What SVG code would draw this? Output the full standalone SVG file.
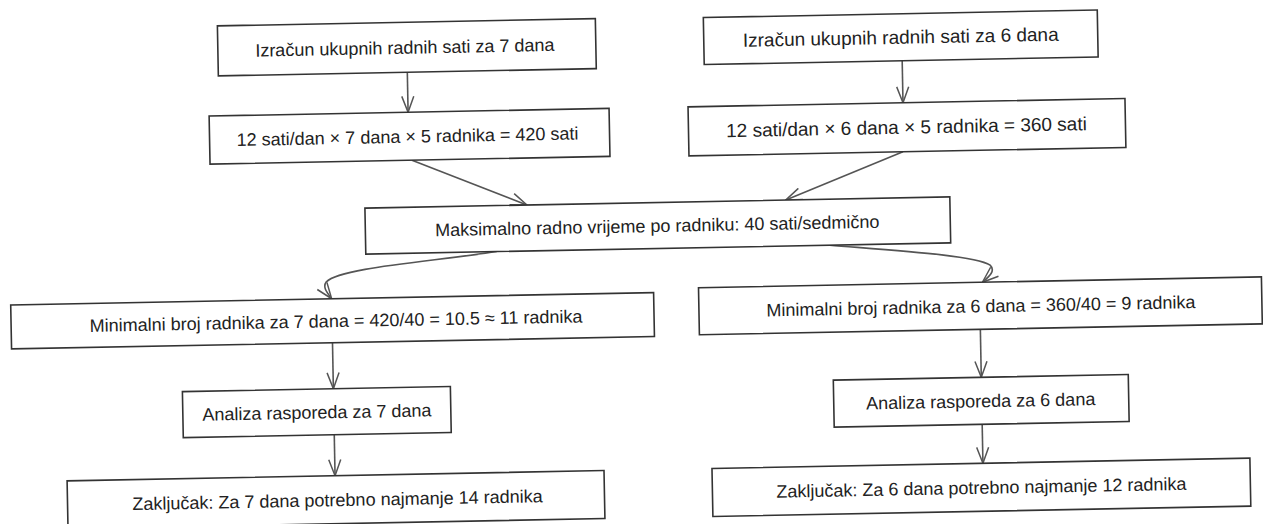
<svg xmlns="http://www.w3.org/2000/svg" width="1263" height="524" viewBox="0 0 1263 524">
<style>
.box{fill:#fff;stroke:#333;stroke-width:1.6}
.lbl{font-family:"Liberation Sans",Arial,Helvetica,sans-serif;font-size:18px;fill:#222;text-anchor:middle}
.big{font-size:19px}
.con{fill:none;stroke:#555;stroke-width:1.6}
</style>
<defs>
<marker id="arr" viewBox="0 0 18 14" refX="17" refY="7" markerWidth="18" markerHeight="14" markerUnits="userSpaceOnUse" orient="auto">
<path d="M1,1 L17,7 L1,13" fill="none" stroke="#555" stroke-width="1.5"/>
</marker>
</defs>
<rect width="1263" height="524" fill="#fff"/>
<g transform="rotate(-1.1 631 262)">
<g id="connectors">
<path class="con" d="M411 68 L411 108" marker-end="url(#arr)"/>
<path class="con" d="M906 66 L906 108" marker-end="url(#arr)"/>
<path class="con" d="M414 156 L528 203" marker-end="url(#arr)"/>
<path class="con" d="M905 157 L787 203" marker-end="url(#arr)"/>
<path class="con" d="M497 249 C430 258 340 262 326 276 C322 281 326 286 331 293" marker-end="url(#arr)"/>
<path class="con" d="M830 249 C900 256 975 262 990 272 C996 278 988 284 982 289" marker-end="url(#arr)"/>
<path class="con" d="M331 337 L331 383" marker-end="url(#arr)"/>
<path class="con" d="M331 429 L331 470" marker-end="url(#arr)"/>
<path class="con" d="M979 336 L979 384" marker-end="url(#arr)"/>
<path class="con" d="M979 431 L979 470" marker-end="url(#arr)"/>
</g>
<g id="nodeA"><rect class="box" x="222" y="18" width="378" height="50"/><text class="lbl" x="409" y="49.5">Izračun ukupnih radnih sati za 7 dana</text></g>
<g id="nodeC"><rect class="box" x="708" y="19" width="394" height="47"/><text class="lbl big" x="905" y="49">Izračun ukupnih radnih sati za 6 dana</text></g>
<g id="nodeB"><rect class="box" x="212" y="108" width="400" height="48"/><text class="lbl" x="410" y="138.5">12 sati/dan × 7 dana × 5 radnika = 420 sati</text></g>
<g id="nodeD"><rect class="box" x="691" y="108" width="437" height="49"/><text class="lbl big" x="909" y="139">12 sati/dan × 6 dana × 5 radnika = 360 sati</text></g>
<g id="nodeE"><rect class="box" x="366" y="203" width="585" height="46"/><text class="lbl" x="658" y="232.5">Maksimalno radno vrijeme po radniku: 40 sati/sedmično</text></g>
<g id="nodeF"><rect class="box" x="10" y="293" width="643" height="44"/><text class="lbl" x="335" y="321.5">Minimalni broj radnika za 7 dana = 420/40 = 10.5 ≈ 11 radnika</text></g>
<g id="nodeG"><rect class="box" x="698" y="289" width="563" height="47"/><text class="lbl" x="980" y="319">Minimalni broj radnika za 6 dana = 360/40 = 9 radnika</text></g>
<g id="nodeH"><rect class="box" x="180" y="383" width="268" height="46"/><text class="lbl" x="314" y="412.5">Analiza rasporeda za 7 dana</text></g>
<g id="nodeJ"><rect class="box" x="831" y="384" width="295" height="47"/><text class="lbl" x="978" y="414">Analiza rasporeda za 6 dana</text></g>
<g id="nodeI"><rect class="box" x="63" y="470" width="537" height="48"/><text class="lbl" x="333" y="500.5">Zaključak: Za 7 dana potrebno najmanje 14 radnika</text></g>
<g id="nodeK"><rect class="box" x="708" y="470" width="538" height="48"/><text class="lbl" x="977" y="500.5">Zaključak: Za 6 dana potrebno najmanje 12 radnika</text></g>
</g>
</svg>
